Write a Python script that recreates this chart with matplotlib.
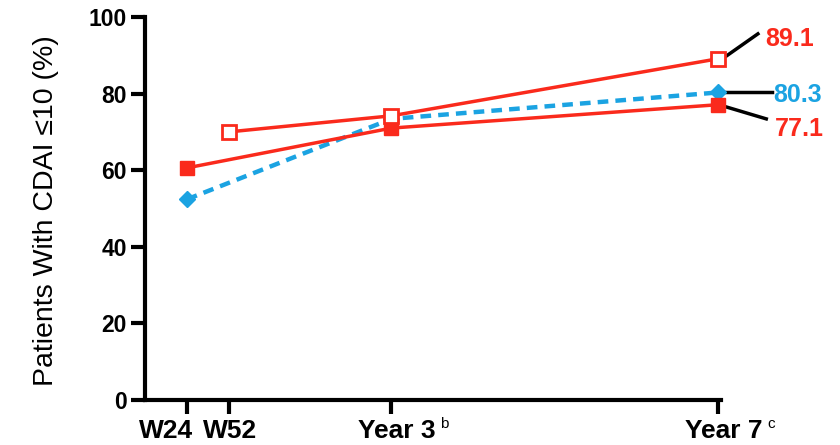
import matplotlib
matplotlib.use("Agg")
import matplotlib.pyplot as plt
import matplotlib.transforms as mtransforms

plt.rcParams['font.family'] = ['Liberation Sans', 'DejaVu Sans']

# x positions on the time axis (as drawn)
tick_pos = [1.0, 2.0, 5.88, 13.67]
tick_labels = ['W24', 'W52', 'Year 3', 'Year 7']
tick_sup = ['', '', 'b', 'c']

x_filled = [1.0, 5.88, 13.67]
y_filled = [60.6, 71.0, 77.1]

x_open = [2.0, 5.88, 13.67]
y_open = [70.0, 74.2, 89.1]

x_blue = [1.0, 5.88, 13.67]
y_blue = [52.4, 73.4, 80.3]

end_labels = ['89.1', '80.3', '77.1']

red = '#fa2a1c'
blue = '#1ba3e2'

fig = plt.figure(figsize=(8.4, 4.45), dpi=100)
ax = fig.add_axes([145/840, 1-400/445, (721-145)/840, (400-17)/445])

ax.plot(x_blue, y_blue, color=blue, lw=3.2, ls=(0, (2.4, 1.6)), marker='D',
        ms=8, mec=blue, mfc=blue, zorder=3, clip_on=False)
ax.plot(x_filled, y_filled, color=red, lw=2.5, marker='s', ms=9.5,
        mfc=red, mec=red, zorder=4, clip_on=False)
ax.plot(x_open, y_open, color=red, lw=2.5, marker='s', ms=9.5,
        mfc='white', mec=red, mew=2.0, zorder=4, clip_on=False)

# end labels with leader lines
leaders = [((13.84, 89.6), (14.62, 95.6), (14.79, 95.0), red),
           ((13.84, 80.4), (14.96, 80.4), (14.98, 80.2), blue),
           ((13.84, 76.6), (14.82, 73.4), (15.03, 71.3), red)]
for (p0, p1, pt, c), txt in zip(leaders, end_labels):
    ax.plot([p0[0], p1[0]], [p0[1], p1[1]], color='black', lw=2.5,
            clip_on=False, zorder=2)
    ax.text(pt[0], pt[1], txt, color=c, fontsize=18, fontweight='bold',
            va='center_baseline', ha='left')

ax.set_xlim(0, 13.74)
ax.set_ylim(0, 100)
ax.set_yticks([0, 20, 40, 60, 80, 100])
ax.set_xticks(tick_pos)
ax.set_xticklabels([])
for s in ['top', 'right']:
    ax.spines[s].set_visible(False)
for s in ['left', 'bottom']:
    ax.spines[s].set_linewidth(3)
ax.tick_params(width=3, length=10)
ax.tick_params(axis='y', labelsize=16.5, pad=3)
for lab in ax.get_yticklabels():
    lab.set_fontweight('bold')

# x tick labels drawn as texts so they can be nudged like in the original
shift_px = [-21, 1, 5, 6]
trans = mtransforms.blended_transform_factory(ax.transData, ax.transAxes)
for xp, lab, sup, dx in zip(tick_pos, tick_labels, tick_sup, shift_px):
    t = trans + mtransforms.ScaledTranslation(dx/100, -38/100, fig.dpi_scale_trans)
    txt = ax.text(xp, 0, lab, transform=t, ha='center', va='baseline',
                  fontsize=19, fontweight='bold', clip_on=False)
    if sup:
        fig.canvas.draw()
        bb = txt.get_window_extent()
        fig.text((bb.x1 + 5)/840, (445-417)/445, sup, fontsize=11,
                 va='top', ha='left')

ax.set_ylabel('Patients With CDAI ≤10 (%)', fontsize=20.5)
ax.yaxis.set_label_coords((59-145)/576, 0.495)

fig.savefig('out.png', dpi=100)
